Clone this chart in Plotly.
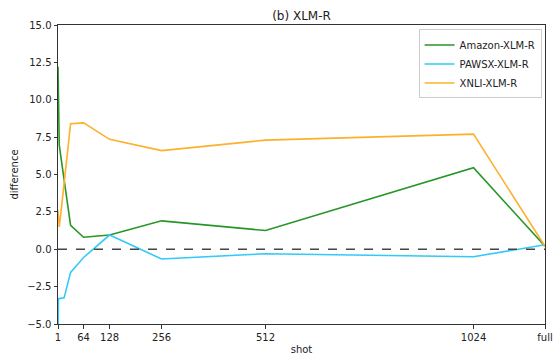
import plotly.graph_objects as go

# x positions: "full" placed at 1200 on a linear axis
shots = [1, 2, 4, 8, 16, 32, 64, 128, 256, 512, 1024, 1200]
tick_vals = [1, 64, 128, 256, 512, 1024, 1200]
tick_text = ["1", "64", "128", "256", "512", "1024", "full"]

amazon = [12.2, 9.8, 7.0, 6.2, 4.7, 1.6, 0.8, 0.95, 1.9, 1.25, 5.45, 0.2]
pawsx = [-7.0, -3.3, -3.3, -3.3, -3.25, -1.55, -0.55, 0.95, -0.65, -0.3, -0.5, 0.3]
xnli = [2.6, 1.8, 1.5, 2.4, 4.5, 8.4, 8.45, 7.35, 6.6, 7.3, 7.7, 0.2]

series = [
    ("Amazon-XLM-R", amazon, "#279627"),
    ("PAWSX-XLM-R", pawsx, "#33c9fb"),
    ("XNLI-XLM-R", xnli, "#fdb02a"),
]

fig = go.Figure()
for name, vals, color in series:
    fig.add_trace(go.Scatter(x=shots, y=vals, mode="lines", name=name,
                             line=dict(color=color, width=1.6)))

fig.add_shape(type="line", xref="x", yref="y", x0=1, x1=1200, y0=0, y1=0,
              line=dict(color="#444444", width=1.4, dash="dash"))

axis_font = dict(family="DejaVu Sans", size=10, color="#222222")
fig.update_layout(
    width=555, height=357,
    margin=dict(l=58, r=10, t=25, b=33, autoexpand=False),
    paper_bgcolor="white", plot_bgcolor="white",
    font=dict(family="DejaVu Sans", size=10, color="#222222"),
    title=dict(text="(b) XLM-R", x=0.5, xref="paper", xanchor="center",
               y=1, yref="paper", yanchor="bottom", pad=dict(b=5),
               font=dict(family="DejaVu Sans", size=12, color="#222222")),
    showlegend=True,
    legend=dict(x=0.993, y=0.985, xanchor="right", yanchor="top",
                bgcolor="rgba(255,255,255,0.8)", bordercolor="#cccccc", borderwidth=1,
                font=dict(family="DejaVu Sans", size=10, color="#222222"),
                tracegroupgap=0, itemwidth=30),
    xaxis=dict(range=[1, 1200], tickvals=tick_vals, ticktext=tick_text,
               showgrid=False, zeroline=False, showline=True, mirror=True,
               linecolor="#333333", linewidth=1, ticks="outside", ticklen=3.5,
               tickcolor="#333333", tickfont=axis_font, automargin=False,
               ticklabeloverflow="allow",
               title=dict(text="shot", font=axis_font, standoff=4)),
    yaxis=dict(range=[-5, 15], dtick=2.5, tick0=0, tickformat=".1f",
               showgrid=False, zeroline=False, showline=True, mirror=True,
               linecolor="#333333", linewidth=1, ticks="outside", ticklen=3.5,
               tickcolor="#333333", tickfont=axis_font, automargin=False,
               title=dict(text="difference", font=axis_font, standoff=6)),
)

fig.write_html("out.html", config={"displayModeBar": False},
               post_script="document.body.style.margin='0';")
